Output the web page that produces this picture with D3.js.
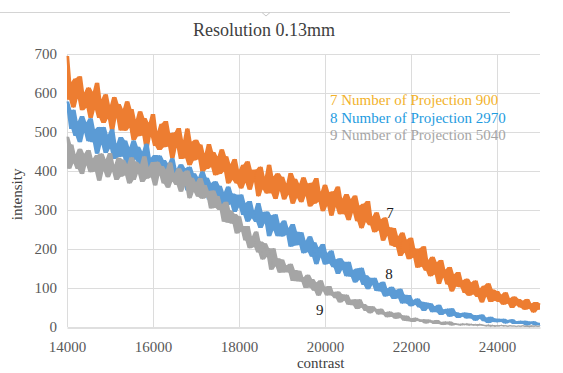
<!DOCTYPE html>
<html><head><meta charset="utf-8">
<script src="https://cdn.jsdelivr.net/npm/d3@7"></script>
<style>body{margin:0;background:#fff}svg{display:block}</style>
</head><body>
<svg id="c" width="563" height="373"></svg>
<script>
// ---- data (one reading every 50 contrast units) ----
const contrastStart = 14000, contrastStep = 50;
const xTicks = [14000, 16000, 18000, 20000, 22000, 24000];
const yTicks = [0, 100, 200, 300, 400, 500, 600, 700];
const seriesNames = ["7 Number of Projection 900", "8 Number of Projection 2970", "9 Number of Projection 5040"];
const curveLabels = ["7", "8", "9"];

const proj900 = [695,583,628,563,637,586,643,556,601,562,
 614,536,603,557,626,536,584,523,597,534,
 569,504,590,536,572,504,559,503,579,511,
 559,479,532,489,553,491,536,457,524,488,
 546,464,502,454,521,461,528,463,497,432,
 499,460,510,431,479,433,509,415,475,427,
 480,430,468,398,445,405,469,410,449,389,
 437,392,456,399,438,368,418,377,431,368,
 403,355,416,370,425,352,403,372,404,335,
 411,353,385,342,416,343,386,328,394,349,
 385,327,368,340,395,316,380,331,367,320,
 384,336,368,309,370,316,382,321,347,297,
 365,310,346,285,348,308,360,289,329,289,
 341,274,328,293,337,271,311,253,316,269,
 323,261,283,243,294,248,276,221,281,234,
 256,209,254,205,233,182,242,191,224,174,
 229,178,201,152,201,155,207,144,172,130,
 180,135,166,110,172,127,147,109,154,91,
 135,104,141,102,119,87,124,80,114,84,
 119,77,99,63,106,78,112,64,96,67,
 92,64,83,57,89,60,74,49,78,56,
 72,50,67,44,72,47,60,37,64,44,60];
const proj2970 = [578,551,508,557,490,527,474,541,498,525,
 476,535,474,507,444,513,468,513,446,493,
 458,507,431,470,436,487,437,478,410,461,
 417,478,430,462,403,450,408,470,409,434,
 389,441,411,440,391,428,378,419,392,433,
 384,406,367,417,380,407,350,411,365,394,
 350,384,349,399,356,383,327,369,333,374,
 332,362,306,346,310,360,315,342,295,339,
 307,340,287,318,270,323,279,299,269,318,
 254,295,266,296,233,286,248,289,233,265,
 232,273,236,254,206,264,209,244,210,243,
 189,221,192,233,180,217,161,204,179,213,
 160,190,163,196,153,173,136,176,147,167,
 130,167,129,146,114,150,121,152,108,133,
 97,126,108,126,92,112,91,116,78,99,
 81,103,72,95,74,98,60,83,60,82,
 53,69,57,73,50,65,41,63,48,61,
 38,53,38,57,31,45,35,47,26,48,
 29,38,23,35,27,37,22,36,22,31,
 16,30,21,32,15,24,10,26,13,22,
 12,21,13,21,9,18,12,20,8,15,
 8,16,8,16,4,14,8,15,4,11,4];
const proj5040 = [488,406,468,420,443,405,457,392,444,415,
 454,397,432,399,441,375,445,400,430,384,
 446,398,416,377,434,385,429,389,417,368,
 435,377,424,393,417,372,438,380,410,384,
 423,363,424,389,413,368,404,357,422,373,
 394,364,407,347,397,362,401,330,383,346,
 371,334,382,329,364,333,349,304,350,306,
 336,300,315,270,321,267,299,265,290,240,
 284,245,259,222,259,202,232,205,245,191,
 219,173,215,180,202,147,202,156,176,139,
 173,140,158,140,162,118,146,117,144,116,
 127,100,134,101,123,93,114,80,120,92,
 103,81,105,81,90,74,91,63,84,68,
 83,57,70,56,71,46,71,50,59,41,
 54,35,53,41,46,32,47,32,38,25,
 40,26,36,21,37,23,30,16,29,15,
 22,13,24,16,20,13,20,9,19,12,
 16,8,18,8,13,5,14,7,14,4,
 10,6,8,4,9,5,9,4,8,4,
 7,3,8,4,5,2,6,1,5,1,
 4,2,5,2,4,1,4,2,3,1,
 3,1,4,1,3,0,4,1,3,1,3];
const seriesValues = [proj900, proj2970, proj5040];
const seriesColors = ["#ED7D31", "#5B9BD5", "#A5A5A5"];
const legendColors = ["#F2B22A", "#1E9BE0", "#A5A5A5"];
// curve label anchor points [contrast, intensity]
const labelAt = [[21510, 280], [21490, 123], [19880, 31]];

// ---- layout ----
const W = 563, H = 373;
const m = {left: 67, right: 23, top: 54, bottom: 46};
const svg = d3.select("#c");
const x = d3.scaleLinear().domain([14000, 25000]).range([m.left, W - m.right]);
const y = d3.scaleLinear().domain([0, 700]).range([H - m.bottom, m.top]);
const serif = "'Liberation Serif','Times New Roman','DejaVu Serif',serif";

// top window strip
svg.append("line").attr("x1", 0).attr("x2", 510).attr("y1", 12.5).attr("y2", 12.5)
  .attr("stroke", "#d4d4d4").attr("stroke-width", 1);
svg.append("path").attr("d", "M262,12.5 L266,16 L270,12.5").attr("fill", "none").attr("stroke", "#c8c8c8");

// gridlines
svg.append("g").selectAll("line").data(yTicks.filter(d => d > 0)).join("line")
  .attr("x1", m.left).attr("x2", W - m.right)
  .attr("y1", d => Math.round(y(d)) + 0.5).attr("y2", d => Math.round(y(d)) + 0.5)
  .attr("stroke", "#dcdcdc");
svg.append("g").selectAll("line").data(xTicks).join("line")
  .attr("y1", m.top).attr("y2", H - m.bottom)
  .attr("x1", d => Math.round(x(d)) + 0.5).attr("x2", d => Math.round(x(d)) + 0.5)
  .attr("stroke", "#dcdcdc");

// axes
const xAxis = svg.append("g").attr("transform", `translate(0,${Math.round(y(0)) + 0.5})`)
  .call(d3.axisBottom(x).tickValues(xTicks).tickSize(0).tickPadding(14).tickFormat(d3.format("d")));
xAxis.select(".domain").attr("stroke", "#bfbfbf");
xAxis.selectAll("text").style("font-family", serif).style("font-size", "15px").attr("fill", "#595959");

const yAxis = svg.append("g").attr("transform", `translate(${m.left},0)`)
  .call(d3.axisLeft(y).tickValues(yTicks).tickSize(0).tickPadding(10).tickFormat(d3.format("d")));
yAxis.select(".domain").remove();
yAxis.selectAll("text").style("font-family", serif).style("font-size", "15px").attr("fill", "#595959");

// series: noisy traces (band = local min/max of the readings, plus the trace itself)
seriesValues.forEach((vals, si) => {
  const pts = vals.map((v, i) => ({c: contrastStart + i * contrastStep, v, i}));
  const win = i => vals.slice(Math.max(0, i - 1), i + 2);
  const area = d3.area().x(d => x(d.c)).y0(d => y(d3.min(win(d.i)))).y1(d => y(d3.max(win(d.i))));
  svg.append("path").datum(pts).attr("d", area).attr("fill", seriesColors[si]);
  const line = d3.line().x(d => x(d.c)).y(d => y(d.v));
  svg.append("path").datum(pts).attr("d", line).attr("fill", "none")
    .attr("stroke", seriesColors[si]).attr("stroke-width", 1).attr("stroke-linejoin", "bevel");
});

// title
svg.append("text").attr("x", 264).attr("y", 36).attr("text-anchor", "middle")
  .style("font-family", serif).style("font-size", "18px").attr("fill", "#404040").text("Resolution 0.13mm");

// legend text
seriesNames.forEach((n, i) => {
  svg.append("text").attr("x", 330).attr("y", 105 + i * 17.5)
    .style("font-family", serif).style("font-size", "15px").attr("fill", legendColors[i]).text(n);
});

// curve labels
curveLabels.forEach((t, i) => {
  svg.append("text").attr("x", x(labelAt[i][0])).attr("y", y(labelAt[i][1]))
    .attr("text-anchor", "middle").style("font-family", serif).style("font-size", "15px")
    .attr("fill", "#1a1a1a").text(t);
});

// axis titles
svg.append("text").attr("x", x(19900)).attr("y", 368).attr("text-anchor", "middle")
  .style("font-family", serif).style("font-size", "15px").attr("fill", "#404040").text("contrast");
svg.append("text").attr("transform", `translate(22,${y(340)}) rotate(-90)`).attr("text-anchor", "middle")
  .style("font-family", serif).style("font-size", "15px").attr("fill", "#404040").text("intensity");
</script>
</body></html>
